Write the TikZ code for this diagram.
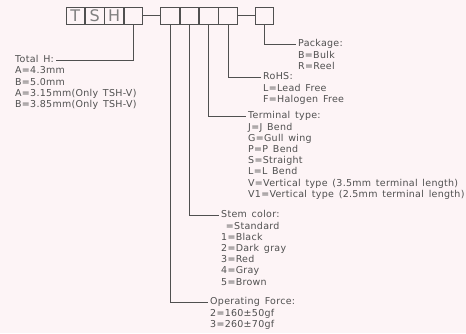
\documentclass[tikz,border=0pt]{standalone}
\usepackage{fontspec}
\setmainfont{DejaVu Sans}[WordSpace=1.45, LetterSpace=3]
\usetikzlibrary{positioning}
\definecolor{bgpink}{HTML}{FDF4F6}
\definecolor{inkgray}{HTML}{505050}

\begin{document}
\begin{tikzpicture}[x=1pt, y=-1pt,
    cell/.style={draw=inkgray, line width=0.8pt, minimum width=18.6pt, minimum height=17pt,
      inner sep=0pt, text=gray, font=\fontsize{16}{16}\selectfont},
    lead/.style={draw=inkgray, line width=0.7pt},
    head/.style={anchor=west, inner xsep=2pt, inner ysep=1pt, text=inkgray,
      font=\fontsize{9.5}{11.2}\selectfont, text height=7pt, text depth=2.2pt},
    list/.style={align=left, inner xsep=2pt, inner ysep=0.8pt, text=inkgray,
      font=\fontsize{9.5}{11.2}\selectfont}]
    % page and background
    \useasboundingbox (0,0) rectangle (466,333);
    \fill[bgpink] (0,0) rectangle (466,333);

    % part number boxes
    \node[cell] (b1) at (75.3,15.5) {T};
    \node[cell, right=0pt of b1] (b2) {S};
    \node[cell, right=0pt of b2] (b3) {H};
    \node[cell, right=0pt of b3] (b4) {};
    \node[cell, right=17pt of b4] (b5) {};
    \node[cell, right=0pt of b5] (b6) {};
    \node[cell, right=0pt of b6] (b7) {};
    \node[cell, right=0pt of b7] (b8) {};
    \node[cell, right=17pt of b8] (b9) {};
    \draw[lead] (b4.east) -- (b5.west);
    \draw[lead] (b8.east) -- (b9.west);

    % total height
    \node[head, anchor=west] (toth) at (13,60) {Total H:};
    \node[list, below right=0pt and 0pt of toth.south west] (tothl)
      {A=4.3mm\\B=5.0mm\\A=3.15mm(Only TSH-V)\\B=3.85mm(Only TSH-V)};
    \draw[lead] (b4.south) |- (toth.east);

    % operating force
    \node[head] (force) at (208,302) {Operating Force:};
    \node[list, below right=0pt and 0pt of force.south west] (forcel)
      {2=160±50gf\\3=260±70gf};
    \draw[lead] (b5.south) |- (force.west);

    % stem color
    \node[head] (stem) at (219,215) {Stem color:};
    \node[list, below right=0pt and 0pt of stem.south west] (steml)
      {\ =Standard\\1=Black\\2=Dark gray\\3=Red\\4=Gray\\5=Brown};
    \draw[lead] (b6.south) |- (stem.west);

    % terminal type
    \node[head] (term) at (246,116) {Terminal type:};
    \node[list, below right=0pt and 0pt of term.south west] (terml)
      {J=J Bend\\G=Gull wing\\P=P Bend\\S=Straight\\L=L Bend\\
       V=Vertical type (3.5mm terminal length)\\V1=Vertical type (2.5mm terminal length)};
    \draw[lead] (b7.south) |- (term.west);

    % rohs
    \node[head] (rohs) at (261,77) {RoHS:};
    \node[list, below right=0pt and 0pt of rohs.south west] (rohsl)
      {L=Lead Free\\F=Halogen Free};
    \draw[lead] (b8.south) |- (rohs.west);

    % package
    \node[head] (pack) at (296,44) {Package:};
    \node[list, below right=0pt and 0pt of pack.south west] (packl)
      {B=Bulk\\R=Reel};
    \draw[lead] (b9.south) |- (pack.west);
\end{tikzpicture}
\end{document}
